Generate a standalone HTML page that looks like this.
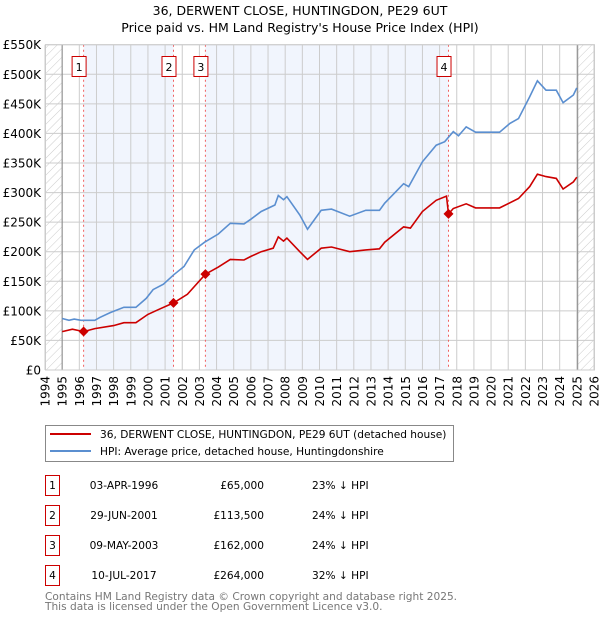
<!DOCTYPE html>
<html><head><meta charset="utf-8">
<style>
body{margin:0;background:#fff;font-family:"DejaVu Sans","Liberation Sans",sans-serif;}
svg text{font-family:"DejaVu Sans","Liberation Sans",sans-serif;}
</style></head>
<body>
<svg id="chart" width="600" height="620" viewBox="0 0 600 620" xmlns="http://www.w3.org/2000/svg">
<defs>
<pattern id="hatch" width="6" height="6" patternUnits="userSpaceOnUse" patternTransform="rotate(45)">
<line x1="0" y1="0" x2="0" y2="6" stroke="#ccc" stroke-width="1"/>
</pattern>
</defs>
<text x="300" y="15" text-anchor="middle" font-size="12.5">36, DERWENT CLOSE, HUNTINGDON, PE29 6UT</text>
<text x="300" y="32" text-anchor="middle" font-size="12.5">Price paid vs. HM Land Registry's House Price Index (HPI)</text>
<g id="plot"></g>
<g id="legend">
<rect x="45.5" y="425.5" width="408" height="36" fill="#fff" stroke="#888"/>
<line x1="50" y1="434" x2="91" y2="434" stroke="#cc0000" stroke-width="2"/>
<text x="100" y="438" font-size="10.6">36, DERWENT CLOSE, HUNTINGDON, PE29 6UT (detached house)</text>
<line x1="50" y1="451" x2="91" y2="451" stroke="#5b8fd0" stroke-width="2"/>
<text x="100" y="455" font-size="10.6">HPI: Average price, detached house, Huntingdonshire</text>
</g>
<g id="table"></g>
<text x="45" y="600" font-size="10.6" fill="#777">Contains HM Land Registry data © Crown copyright and database right 2025.</text>
<text x="45" y="610" font-size="10.6" fill="#777">This data is licensed under the Open Government Licence v3.0.</text>
</svg>
<script>
const hpiYears=[1995.0,1995.4,1995.7,1996.1,1996.9,1997.2,1997.8,1998.6,1999.3,1999.9,2000.3,2000.9,2001.5,2002.1,2002.7,2003.3,2004.1,2004.8,2005.6,2006.0,2006.6,2007.4,2007.6,2007.9,2008.1,2008.85,2009.3,2010.1,2010.7,2011.76,2012.7,2013.5,2013.8,2014.9,2015.2,2016.0,2016.8,2017.3,2017.8,2018.1,2018.55,2019.1,2020.5,2021.1,2021.6,2022.25,2022.7,2023.2,2023.8,2024.2,2024.8,2025.0];
const hpiValues=[87,84,86,84,84,89,97,106,106,121,136,145,161,175,203,216,230,248,247,255,268,279,295,288,293,262,238,270,272,260,270,270,282,315,310,352,380,386,403,396,411,402,402,417,425,462,489,473,473,452,465,477];
const ppYears=[1995.0,1995.6,1996.25,1996.9,1998.0,1998.6,1999.3,2000.0,2000.6,2001.49,2002.3,2003.35,2004.1,2004.8,2005.6,2006.0,2006.6,2007.3,2007.6,2007.9,2008.1,2008.85,2009.3,2010.1,2010.7,2011.76,2012.7,2013.5,2013.8,2014.9,2015.3,2016.0,2016.8,2017.4,2017.52,2017.8,2018.55,2019.1,2020.5,2021.6,2022.25,2022.7,2023.2,2023.8,2024.2,2024.8,2025.0];
const ppValues=[65,69,65,70,75,80,80,94,102,113.5,128,162,174,187,186,192,200,206,225,218,223,200,187,206,208,200,203,205,216,242,240,268,287,294,264,273,281,274,274,290,310,331,327,324,306,318,326];
const saleYears=[1996.25,2001.49,2003.35,2017.52];
const saleValues=[65,113.5,162,264];
const saleLabels=["1","2","3","4"];
const saleDates=["03-APR-1996","29-JUN-2001","09-MAY-2003","10-JUL-2017"];
const salePrices=["£65,000","£113,500","£162,000","£264,000"];
const salePct=["23% ↓ HPI","24% ↓ HPI","24% ↓ HPI","32% ↓ HPI"];
const yTicks=[0,50,100,150,200,250,300,350,400,450,500,550];
const yTickLabels=["£0","£50K","£100K","£150K","£200K","£250K","£300K","£350K","£400K","£450K","£500K","£550K"];
const xTicks=[1994,1995,1996,1997,1998,1999,2000,2001,2002,2003,2004,2005,2006,2007,2008,2009,2010,2011,2012,2013,2014,2015,2016,2017,2018,2019,2020,2021,2022,2023,2024,2025,2026];

const NS="http://www.w3.org/2000/svg";
const X0=45,X1=594,Y0=370,Y1=44.7;
const x=v=>X0+(v-1994)/(2026-1994)*(X1-X0);
const y=v=>Y0-v/550*(Y0-Y1);
const plot=document.getElementById('plot');
function mk(tag,attrs,parent){const e=document.createElementNS(NS,tag);for(const k in attrs)e.setAttribute(k,attrs[k]);(parent||plot).appendChild(e);return e;}

let r;
r=mk('rect',{x:x(1994),y:Y1,width:x(2026)-x(1994),height:Y0-Y1,fill:'#fff'});


const bands=[[saleYears[0],saleYears[1]],[saleYears[2],saleYears[3]]];
bands.forEach((b,i)=>{
 const e=mk('rect',{x:x(b[0]),y:Y1,width:x(b[1])-x(b[0]),height:Y0-Y1,fill:'#eef3fc',opacity:'0.8'});
 
 
});
r=mk('rect',{x:x(1994),y:Y1,width:x(1995)-x(1994),height:Y0-Y1,fill:'url(#hatch)'});


r=mk('rect',{x:x(2025.05),y:Y1,width:x(2026)-x(2025.05),height:Y0-Y1,fill:'url(#hatch)'});


xTicks.forEach((t,i)=>{
 const l=mk('line',{x1:x(t),x2:x(t),y1:Y1,y2:Y0,stroke:'#ccc','stroke-width':1});
 
 
 const tx=mk('text',{x:0,y:0,'font-size':12,'text-anchor':'end',transform:`translate(${x(t)+4.5},376) rotate(-90)`});
 tx.textContent=t;
 
 
});
yTicks.forEach((t,i)=>{
 const l=mk('line',{x1:X0,x2:X1,y1:y(t),y2:y(t),stroke:'#ccc','stroke-width':1});
 
 
 const tx=mk('text',{x:41,y:y(t)+4.5,'font-size':12,'text-anchor':'end'});
 tx.textContent=yTickLabels[i];
 
 
});
r=mk('line',{x1:x(1995),x2:x(1995),y1:Y1,y2:Y0,stroke:'#888','stroke-width':1});


r=mk('line',{x1:x(2025.05),x2:x(2025.05),y1:Y1,y2:Y0,stroke:'#888','stroke-width':1});


saleYears.forEach((s,i)=>{
 const l=mk('line',{x1:x(s),x2:x(s),y1:Y1,y2:Y0,stroke:'#f06060','stroke-width':1,'stroke-dasharray':'2,3'});
 
 
 const b=mk('rect',{x:x(s)-11.5,y:56.5,width:14,height:20,fill:'#fff',stroke:'#cc0000'});
 
 
 const t=mk('text',{x:x(s)-4.5,y:71,'font-size':11,'text-anchor':'middle'});
 t.textContent=saleLabels[i];
 
 
});
const line=(ys,vs)=>ys.map((t,i)=>(i?'L':'M')+x(t).toFixed(1)+','+y(vs[i]).toFixed(1)).join('');
r=mk('path',{d:line(hpiYears,hpiValues),fill:'none',stroke:'#5b8fd0','stroke-width':1.6});


r=mk('path',{d:line(ppYears,ppValues),fill:'none',stroke:'#cc0000','stroke-width':1.6});


saleYears.forEach((s,i)=>{
 const c=mk('path',{d:`M${x(s)},${y(saleValues[i])-5}l5,5l-5,5l-5,-5z`,fill:'#cc0000'});
 
 
});
r=mk('rect',{x:X0+0.5,y:Y1,width:X1-X0,height:Y0-Y1,fill:'none',stroke:'#ccc'});


const tb=document.getElementById('table');
saleLabels.forEach((lab,i)=>{
 const cy=483+i*30;
 const b=mk('rect',{x:45.5,y:cy-7.5,width:14,height:20,fill:'#fff',stroke:'#cc0000'},tb);
 
 
 let t=mk('text',{x:52.5,y:cy+6,'font-size':10.6,'text-anchor':'middle'},tb);
 t.textContent=lab;
 
 
 t=mk('text',{x:124,y:cy+6,'font-size':10.6,'text-anchor':'middle'},tb);
 t.textContent=saleDates[i];
 
 
 t=mk('text',{x:264,y:cy+6,'font-size':10.6,'text-anchor':'end'},tb);
 t.textContent=salePrices[i];
 
 
 t=mk('text',{x:312,y:cy+6,'font-size':10.6},tb);
 t.textContent=salePct[i];
 
 
});
</script>
</body></html>
